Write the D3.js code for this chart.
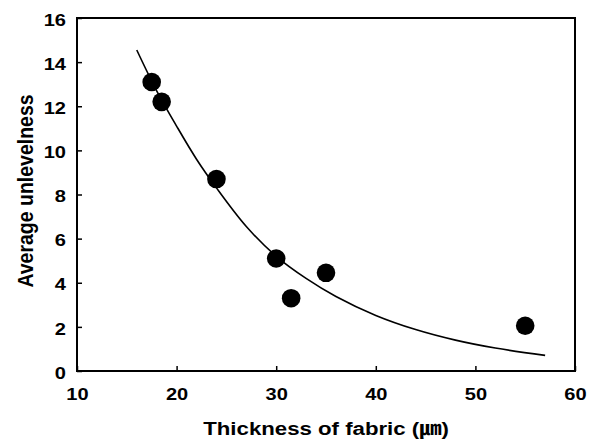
<!DOCTYPE html>
<html>
<head>
<meta charset="utf-8">
<script src="https://cdn.jsdelivr.net/npm/d3@7"></script>
<style>
  html, body { margin: 0; padding: 0; background: #fff; }
  svg { display: block; }
  text { font-family: "Liberation Sans", Arial, "Noto Sans CJK JP", sans-serif; font-weight: bold; fill: #000; }
</style>
</head>
<body>
<svg id="chart" width="593" height="439"></svg>
<script>
// Measured fabric samples: thickness (µm) vs. average unlevelness
const thickness = [17.5, 18.5, 24, 30, 31.5, 35, 55];
const unlevelness = [13.1, 12.2, 8.7, 5.1, 3.3, 4.45, 2.05];

// Trend curve drawn through the samples
const trendX = [16, 18, 20, 22, 24, 27, 30, 33, 36, 40, 44, 48, 52, 57];
const trendY = [14.55, 12.7, 11.1, 9.6, 8.3, 6.55, 5.2, 4.2, 3.38, 2.52, 1.88, 1.4, 1.04, 0.71];

// Axis ticks
const xTicks = [10, 20, 30, 40, 50, 60];
const yTicks = [0, 2, 4, 6, 8, 10, 12, 14, 16];

const xTitle = "Thickness of fabric (\u339B)";
const yTitle = "Average unlevelness";

const margin = { left: 77, right: 18, top: 18, bottom: 68 };
const width = 593, height = 439;
const svg = d3.select("#chart");

const x = d3.scaleLinear().domain([10, 60]).range([margin.left, width - margin.right]);
const y = d3.scaleLinear().domain([0, 16]).range([height - margin.bottom, margin.top]);

const labelStretch = 1.18;

// Bottom axis, ticks pointing into the plot
const gx = svg.append("g")
  .attr("transform", `translate(0,${y(0)})`)
  .call(d3.axisBottom(x).tickValues(xTicks).tickSizeInner(-5).tickSizeOuter(0).tickPadding(17));

// Left axis, ticks pointing into the plot
const gy = svg.append("g")
  .attr("transform", `translate(${x(10)},0)`)
  .call(d3.axisLeft(y).tickValues(yTicks).tickSizeInner(-5).tickSizeOuter(0).tickPadding(11));

[gx, gy].forEach(g => {
  g.select(".domain").remove();
  g.selectAll(".tick line").attr("stroke", "#000").attr("stroke-width", 1.5);
  g.selectAll(".tick text")
    .attr("font-size", 17)
    .attr("font-family", null)
    .each(function () {
      const t = d3.select(this);
      const x0 = +t.attr("x") || 0;
      t.attr("x", x0 / labelStretch).attr("transform", `scale(${labelStretch},1)`);
    });
});
gy.selectAll(".tick text").attr("dy", "0.42em");

// Plot frame
svg.append("rect")
  .attr("x", x(10)).attr("y", y(16))
  .attr("width", x(60) - x(10)).attr("height", y(0) - y(16))
  .attr("fill", "none").attr("stroke", "#000").attr("stroke-width", 2);

// Trend curve
const trend = trendX.map((v, i) => [v, trendY[i]]);
svg.append("path")
  .datum(trend)
  .attr("fill", "none")
  .attr("stroke", "#000")
  .attr("stroke-width", 1.6)
  .attr("d", d3.line().x(d => x(d[0])).y(d => y(d[1])).curve(d3.curveCatmullRom));

// Sample markers
svg.append("g").selectAll("circle")
  .data(thickness.map((v, i) => [v, unlevelness[i]]))
  .join("circle")
  .attr("cx", d => x(d[0]))
  .attr("cy", d => y(d[1]))
  .attr("r", 9.3)
  .attr("fill", "#000");

// Axis titles
svg.append("text")
  .attr("transform", `translate(${(x(10) + x(60)) / 2},435) scale(1.17,1)`)
  .attr("text-anchor", "middle")
  .attr("font-size", 19)
  .text(xTitle);

svg.append("text")
  .attr("transform", `translate(33,191) scale(1.1,1) rotate(-90)`)
  .attr("text-anchor", "middle")
  .attr("font-size", 19.5)
  .text(yTitle);
</script>
</body>
</html>
